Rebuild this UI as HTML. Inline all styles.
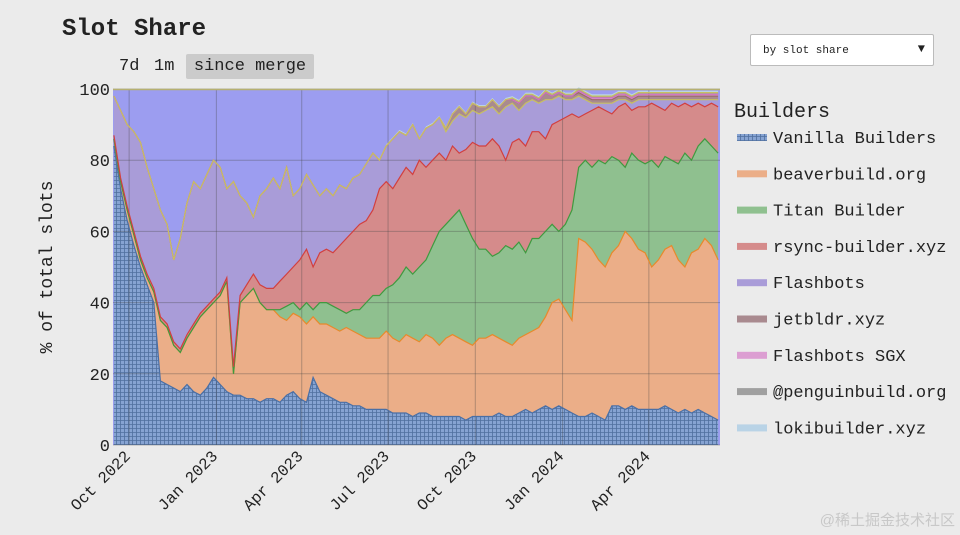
<!DOCTYPE html>
<html><head><meta charset="utf-8">
<style>
html,body{margin:0;padding:0;background:#ebebeb;}
body{width:960px;height:535px;position:relative;overflow:hidden;font-family:"Liberation Mono",monospace;color:#222;}
#title{position:absolute;left:62px;top:16px;font-size:24px;font-weight:bold;}
.btn{position:absolute;top:54px;height:25px;line-height:25px;font-size:17px;}
#dd{position:absolute;left:750px;top:34px;width:184px;height:32px;background:#fff;border:1px solid #bbb;border-radius:2px;font-size:11px;box-sizing:border-box;}
</style></head><body>
<div id="title">Slot Share</div>
<div class="btn" style="left:119px">7d</div>
<div class="btn" style="left:154px">1m</div>
<div class="btn" style="left:186px;width:128px;background:#cbcbcb;border-radius:2px;text-align:center">since merge</div>
<div id="dd"><span style="position:absolute;left:12px;top:10px">by slot share</span><span style="position:absolute;right:8px;top:7px;font-size:12px">▼</span></div>
<svg id="chart" width="960" height="535" style="position:absolute;left:0;top:0">
<defs>
<pattern id="hatch" width="4" height="4" patternUnits="userSpaceOnUse">
<rect width="4" height="4" fill="#86a3d2"/>
<path d="M0 0.5H4M0.5 0V4" stroke="#4f6f9e" stroke-width="0.8"/>
</pattern>
</defs>
</svg>
<script>
const vanilla=[84,72,63,56,50,45,40,18,17,16,15,17,15,14,16,19,17,15,14,14,13,13,12,13,13,12,14,15,13,12,19,15,14,13,12,12,11,11,10,10,10,10,9,9,9,8,9,9,8,8,8,8,8,7,8,8,8,8,9,8,8,9,10,9,10,11,10,11,10,9,8,8,9,8,7,11,11,10,11,10,10,10,10,11,10,9,10,9,10,9,8,7];
const beaver=[2,2,3,3,2,2,3,17,16,12,11,13,18,22,22,21,25,31,6,26,29,31,28,25,25,24,21,22,23,22,17,19,20,20,20,21,21,20,20,20,20,22,21,20,22,22,20,22,22,20,22,23,22,22,20,22,22,23,21,21,20,21,21,23,23,25,30,30,28,26,50,49,46,44,43,43,45,50,47,45,44,40,42,44,46,43,40,45,45,49,48,45];
const titan=[0,0,0,0,0,0,0,0,0,0,0,0,0,0,0,0,0,0,0,0,0,0,0,0,0,2,4,3,2,6,2,6,6,6,6,4,6,7,10,12,12,12,15,18,19,18,21,21,26,32,32,33,36,33,30,25,25,22,24,27,27,27,23,26,25,24,22,19,24,31,20,23,23,28,29,27,24,18,24,25,25,30,26,26,24,27,32,26,29,28,28,30];
const rsync=[1,1,1,1,1,1,1,1,1,1,1,1,1,1,1,1,1,1,2,2,3,4,5,6,6,8,9,10,14,15,12,14,15,15,18,21,22,24,23,24,30,30,27,28,28,28,30,26,24,22,18,20,16,21,27,29,29,33,30,24,30,29,30,30,30,26,28,31,30,27,14,13,16,15,15,12,15,18,12,15,16,16,17,13,16,16,14,15,12,9,12,13];
const flashbots=[11,19,23,28,32,30,28,30,28,23,31,37,40,35,37,39,35,25,52,28,23,16,25,28,31,26,30,20,20,21,23,16,17,16,17,14,15,14,16,16,8,10,14,13,9,14,6,11,10,10,8,7,11,9,9,9,10,9,9,15,11,8,12,9,8,11,7,7,5,4,6,4,2,1,2,3,2,1,2,2,2,1,2,3,1,2,1,2,1,2,1,2];
const jetbldr=[0,0,0,0,0,0,0,0,0,0,0,0,0,0,0,0,0,0,0,0,0,0,0,0,0,0,0,0,0,0,0,0,0,0,0,0,0,0,0,0,0,0,0,0,0,0,0,0,0,0,1,2,2,1,2,2,1,2,2,2,1,2,2,1,1,2,1,1,1,1,1,1,1,1,1,1,1,1,1,1,1,1,1,1,1,1,1,1,1,1,1,1];
const sgx=[0,0,0,0,0,0,0,0,0,0,0,0,0,0,0,0,0,0,0,0,0,0,0,0,0,0,0,0,0,0,0,0,0,0,0,0,0,0,0,0,0,0,0,0,0,0,0,0,0,0,0,0,0,0,0,0,0,0,0,0,0,0,0,0,0,0,0,0,0,0,0.5,0.5,0.5,0.5,0.5,0.5,0.5,0.5,0.5,0.5,0.5,0.5,0.5,0.5,0.5,0.5,0.5,0.5,0.5,0.5,0.5,0.5];
const penguin=[0,0,0,0,0,0,0,0,0,0,0,0,0,0,0,0,0,0,0,0,0,0,0,0,0,0,0,0,0,0,0,0,0,0,0,0,0,0,0,0,0,0,0,0,0,0,0,0,0,0,0,0,0,0,0,0,0,0,0,0,0.5,0.5,0.5,0.5,0.5,0.5,0.5,0.5,0.5,0.5,0.5,0.5,0.5,0.5,0.5,0.5,0.5,0.5,0.5,0.5,0.5,0.5,0.5,0.5,0.5,0.5,0.5,0.5,0.5,0.5,0.5,0.5];
const loki=[0,0,0,0,0,0,0,0,0,0,0,0,0,0,0,0,0,0,0,0,0,0,0,0,0,0,0,0,0,0,0,0,0,0,0,0,0,0,0,0,0.5,0.5,0.5,0.5,0.5,0.5,0.5,0.5,0.5,0.5,0.5,0.5,0.5,0.5,0.5,0.5,0.5,0.5,0.5,0.5,0.5,0.5,0.5,0.5,0.5,0.5,0.5,0.5,0.5,0.5,0.5,0.5,0.5,0.5,0.5,0.5,0.5,0.5,0.5,0.5,0.5,0.5,0.5,0.5,0.5,0.5,0.5,0.5,0.5,0.5,0.5,0.5];
const seriesNames=["Vanilla Builders","beaverbuild.org","Titan Builder","rsync-builder.xyz","Flashbots","jetbldr.xyz","Flashbots SGX","@penguinbuild.org","lokibuilder.xyz"];
const yTicks=[0,20,40,60,80,100];
const xTickLabels=["Oct 2022","Jan 2023","Apr 2023","Jul 2023","Oct 2023","Jan 2024","Apr 2024"];
const xTickDates=["2022-10-01","2023-01-01","2023-04-01","2023-07-01","2023-10-01","2024-01-01","2024-04-01"];
const startDate="2022-09-15";

const NS="http://www.w3.org/2000/svg";
const svg=document.getElementById('chart');
const L=113,R=720,T=89,B=445;
const d0=Date.parse("2022-09-14"),d1=Date.parse("2024-06-15");
function xDate(ms){return L+(ms-d0)/(d1-d0)*(R-L);}
function xIdx(i){return xDate(Date.parse(startDate)+i*7*86400000);}
function y(v){return B-v/100*(B-T);}
function mk(tag,attrs){const e=document.createElementNS(NS,tag);for(const k in attrs)e.setAttribute(k,attrs[k]);svg.appendChild(e);return e;}

const fills=["url(#hatch)","#ebae88","#8fc08f","#d58b8b","#a99cd8","#a98a8f","#dc9ed2","#a0a0a0","#b9d3e6"];
const strokes=["#4a6fa5","#e8892a","#3f9a3f","#d23f3f","#a08ad0","#9a6a6a","#d070c0","#c8c060","#b8d050"];
const all=[vanilla,beaver,titan,rsync,flashbots,jetbldr,sgx,penguin,loki];
const n=vanilla.length;
let base=new Array(n).fill(0);
const tops=[];
const bg=mk('rect',{x:L,y:T,width:R-L,height:B-T,fill:"#9c9df0"});


all.forEach((s,k)=>{
  const top=base.map((b,i)=>b+s[i]);
  let pts=[];
  for(let i=0;i<n;i++)pts.push(xIdx(i).toFixed(1)+","+y(top[i]).toFixed(1));
  for(let i=n-1;i>=0;i--)pts.push(xIdx(i).toFixed(1)+","+y(base[i]).toFixed(1));
  const p=mk('polygon',{points:pts.join(" "),fill:fills[k]});
  
  
  tops.push(top);
  base=top;
});
yTicks.forEach(t=>{
  const g=mk('line',{x1:L,x2:R,y1:y(t),y2:y(t),stroke:"rgba(70,70,70,0.35)","stroke-width":1});
  
  
  const tx=mk('text',{x:L-3,y:y(t)+6,"text-anchor":"end","font-size":17,"font-family":"Liberation Mono, monospace",fill:"#222"});
  tx.textContent=t;
  
  
});
xTickDates.forEach((d,k)=>{
  const xx=xDate(Date.parse(d));
  const g=mk('line',{x1:xx,x2:xx,y1:T,y2:B,stroke:"rgba(70,70,70,0.35)","stroke-width":1});
  
  
  const tx=mk('text',{x:xx+2,y:B+12,"text-anchor":"end","font-size":16,"font-family":"Liberation Mono, monospace",fill:"#222",transform:`rotate(-45 ${xx+2} ${B+12})`});
  tx.textContent=xTickLabels[k];
  
  
});
tops.forEach((top,k)=>{
  if(k===8)return;
  const pts=top.map((v,i)=>xIdx(i).toFixed(1)+","+y(v).toFixed(1)).join(" ");
  const pl=mk('polyline',{points:pts,fill:"none",stroke:k===4?"#c8c060":strokes[k],"stroke-width":1.2});
  
  
});
const topLine=mk('line',{x1:L,x2:R,y1:T+0.5,y2:T+0.5,stroke:"#b6b070","stroke-width":1.5});


const yt=mk('text',{x:52,y:267,"text-anchor":"middle","font-size":18,"font-family":"Liberation Mono, monospace",fill:"#222",transform:"rotate(-90 52 267)"});
yt.textContent="% of total slots";


const lt=mk('text',{x:734,y:117,"font-size":20,"font-family":"Liberation Mono, monospace",fill:"#222"});
lt.textContent="Builders";


seriesNames.forEach((nm,k)=>{
  const yy=137+k*36.3;
  const sw=mk('rect',{x:737,y:yy-3,width:30,height:7,fill:fills[k]});
  
  
  const tx=mk('text',{x:773,y:yy+6,"font-size":17,"font-family":"Liberation Mono, monospace",fill:"#222"});
  tx.textContent=nm;
  
  
});
const wm=mk('text',{x:955,y:525,"text-anchor":"end","font-size":15,"font-family":"Liberation Sans, Noto Sans CJK SC, sans-serif",fill:"#c8c8c8"});
wm.textContent="@稀土掘金技术社区";


</script>
</body></html>
